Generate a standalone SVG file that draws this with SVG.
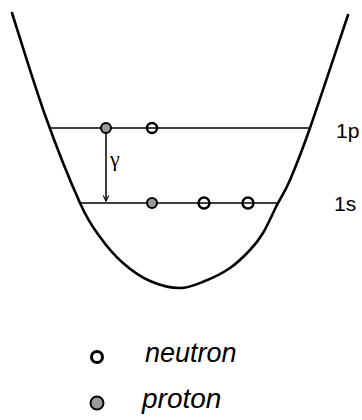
<svg xmlns="http://www.w3.org/2000/svg" width="362" height="420" viewBox="0 0 362 420">
<style>
.well{fill:none;stroke:#000;stroke-width:2.6;stroke-linecap:round;stroke-linejoin:round}
.lvl{stroke:#000;stroke-width:1.6}
.neu{fill:none;stroke:#000;stroke-width:2.4}
.pro{fill:#9a9a9a;stroke:#000;stroke-width:2}
.hand{font-family:"Liberation Sans",Arial,sans-serif;font-style:italic;fill:#000}
.lab{font-family:"Liberation Sans",Arial,sans-serif;font-style:normal;fill:#000;font-size:21px}
</style>
<defs>
<marker id="ah" viewBox="0 0 10 10" refX="9" refY="5" markerWidth="7" markerHeight="7" orient="auto" markerUnits="userSpaceOnUse">
<path d="M1,1 L9,5 L1,9" fill="none" stroke="#000" stroke-width="1.6"/>
</marker>
</defs>
<g id="well">
<path class="well" d="M12,13 C17.5,30 33.670,83.33 45,115 C56.33,146.67 70.83,182.67 80,203 C89.17,223.33 92.83,227 100,237 C107.17,247 114.67,255.67 123,263 C131.33,270.33 140.5,276.83 150,281 C159.5,285.17 170.83,288 180,288 C189.17,288 196.67,284.33 205,281 C213.33,277.67 222.5,273.17 230,268 C237.5,262.83 244.5,255.83 250,250 C255.5,244.17 258.5,240.5 263,233 C267.5,225.5 272.5,213.83 277,205 C281.5,196.17 284.5,192.83 290,180 C295.5,167.17 300.33,155.5 310,128 C319.67,100.5 341.67,33.83 348,15"/>
</g>
<g id="level-1p">
<line class="lvl" x1="49" y1="128" x2="310" y2="128"/>
<text class="lab" x="336" y="138">1p</text>
</g>
<g id="level-1s">
<line class="lvl" x1="80" y1="203" x2="277" y2="203"/>
<text class="lab" x="334" y="211">1s</text>
</g>
<g id="particles">
<circle class="pro" cx="106" cy="128" r="5"/>
<circle class="neu" cx="152" cy="128" r="5"/>
<circle class="pro" cx="152" cy="203" r="5"/>
<circle class="neu" cx="204" cy="203" r="5.5"/>
<circle class="neu" cx="248" cy="203" r="5.5"/>
</g>
<g id="connectors">
<line x1="106" y1="133" x2="106" y2="201" stroke="#000" stroke-width="1.5" marker-end="url(#ah)"/>
<text x="110" y="166" font-family="'Liberation Serif',serif" font-size="22">γ</text>
</g>
<g id="legend-neutron">
<circle cx="97" cy="357" r="5.5" fill="none" stroke="#000" stroke-width="3"/>
<text class="hand" x="145" y="362" font-size="27">neutron</text>
</g>
<g id="legend-proton">
<circle class="pro" cx="97" cy="403" r="6.5" stroke-width="2.6"/>
<text class="hand" x="142" y="408" font-size="28">proton</text>
</g>
</svg>
